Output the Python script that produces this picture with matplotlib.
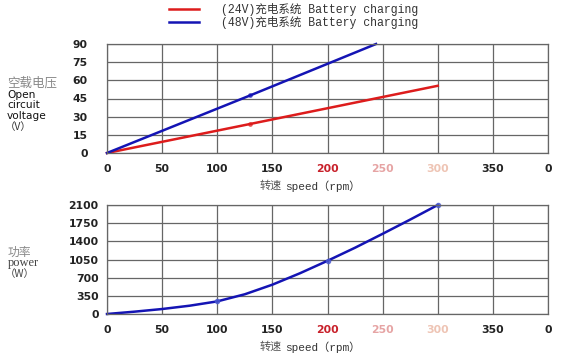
import matplotlib
matplotlib.use("Agg")
import matplotlib.pyplot as plt

speed_ticks = [0, 50, 100, 150, 200, 250, 300, 350, 400]
speed_tick_labels = ["0", "50", "100", "150", "200", "250", "300", "350", "0"]
speed_tick_colors = ["#222222", "#222222", "#222222", "#222222", "#c8202a", "#e6a4a4", "#eec4b4", "#222222", "#222222"]

v24_speed = [0, 130, 300]
v24_volt = [0, 24, 55.5]
v48_speed = [0, 130, 244]
v48_volt = [0, 47.6, 90]
volt_ticks = [0, 15, 30, 45, 60, 75, 90]

power_speed = [0, 25, 50, 75, 100, 125, 150, 175, 200, 225, 250, 275, 300]
power_watt = [0, 45, 96, 160, 243, 380, 565, 785, 1025, 1277, 1545, 1819, 2100]
power_mark_speed = [100, 200, 300]
power_mark_watt = [243, 1025, 2100]
power_ticks = [0, 350, 700, 1050, 1400, 1750, 2100]

legend_labels = ["(24V)充电系统 Battery charging", "(48V)充电系统 Battery charging"]

RED = "#dd1c1c"
BLUE = "#1414b4"
GRID = "#666666"
mono = ["Liberation Mono", "Noto Sans CJK SC"]
sans = ["DejaVu Sans"]
tick_font = ["DejaVu Sans"]
cjk = ["Noto Sans CJK SC", "DejaVu Sans"]
serif = ["Liberation Serif", "DejaVu Serif"]

W, H = 561, 353
fig = plt.figure(figsize=(W / 100, H / 100), dpi=100)

def box(l, t, r, b):
    return [l / W, 1 - b / H, (r - l) / W, (b - t) / H]

def py(y):
    return 1 - y / H

ax1 = fig.add_axes(box(107, 44, 548, 153))
ax2 = fig.add_axes(box(107, 205, 548, 314))

for ax in (ax1, ax2):
    ax.set_xlim(0, 400)
    ax.set_xticks(speed_ticks)
    ax.set_xticklabels(speed_tick_labels, fontfamily=tick_font, fontsize=7.8, fontweight="bold")
    for lab, c in zip(ax.get_xticklabels(), speed_tick_colors):
        lab.set_color(c)
    ax.grid(True, color=GRID, linewidth=0.9)
    ax.set_axisbelow(True)
    for s in ax.spines.values():
        s.set_color(GRID)
        s.set_linewidth(0.9)
    ax.tick_params(length=0)
    ax.tick_params(axis="x", pad=8)

ax1.set_ylim(0, 90)
ax1.set_yticks(volt_ticks)
ax1.set_yticklabels([str(v) for v in volt_ticks], fontfamily=tick_font, fontsize=7.8, fontweight="bold", color="#222222")
ax1.tick_params(axis="y", pad=14)
l1, = ax1.plot(v24_speed, v24_volt, color=RED, linewidth=1.8, clip_on=False)
l2, = ax1.plot(v48_speed, v48_volt, color=BLUE, linewidth=1.8, clip_on=False)
ax1.plot(v24_speed[1:2], v24_volt[1:2], "o", color=RED, markersize=2.5, alpha=0.6)
ax1.plot(v48_speed[1:2], v48_volt[1:2], "o", color=BLUE, markersize=2.5, alpha=0.6)

ax2.set_ylim(0, 2100)
ax2.set_yticks(power_ticks)
ax2.set_yticklabels([str(v) for v in power_ticks], fontfamily=tick_font, fontsize=7.8, fontweight="bold", color="#222222")
ax2.tick_params(axis="y", pad=6)
ax2.plot(power_speed, power_watt, color=BLUE, linewidth=1.8, clip_on=False)
ax2.plot(power_mark_speed, power_mark_watt, "o", color="#4a5ad0", markersize=3, alpha=0.8, clip_on=False)

# x labels
for yy in (186, 347):
    fig.text(260 / W, py(yy), "转速", fontfamily=cjk, fontsize=8, color="#555555", va="center")
    fig.text(285 / W, py(yy), "speed（rpm）", fontfamily=mono, fontsize=8, color="#333333", va="center")

# legend
leg = fig.legend([l1, l2], legend_labels, loc="upper left", bbox_to_anchor=(162 / W, 1 + 4 / H),
                 frameon=False, prop={"family": mono, "size": 8.3}, handlelength=2.6,
                 handletextpad=1.9, labelspacing=0.02, borderaxespad=0.2)
for t in leg.get_texts():
    t.set_color("#333333")

# y labels
fig.text(7 / W, py(83), "空载电压", fontfamily=cjk, fontsize=9.0, color="#888888", va="center")
fig.text(7 / W, py(95), "Open", fontfamily=sans, fontsize=7.6, color="#111111", va="center")
fig.text(7 / W, py(105.5), "circuit", fontfamily=sans, fontsize=7.6, color="#111111", va="center")
fig.text(7 / W, py(116), "voltage", fontfamily=sans, fontsize=7.6, color="#111111", va="center")
fig.text(5 / W, py(127), "（V）", fontfamily=cjk, fontsize=7.5, color="#333333", va="center")

fig.text(8 / W, py(252), "功率", fontfamily=cjk, fontsize=8.5, color="#888888", va="center")
fig.text(8 / W, py(263), "power", fontfamily=serif, fontsize=9, color="#444444", va="center")
fig.text(5 / W, py(274), "（W）", fontfamily=cjk, fontsize=7.5, color="#444444", va="center")

fig.savefig("out.png", dpi=100)
